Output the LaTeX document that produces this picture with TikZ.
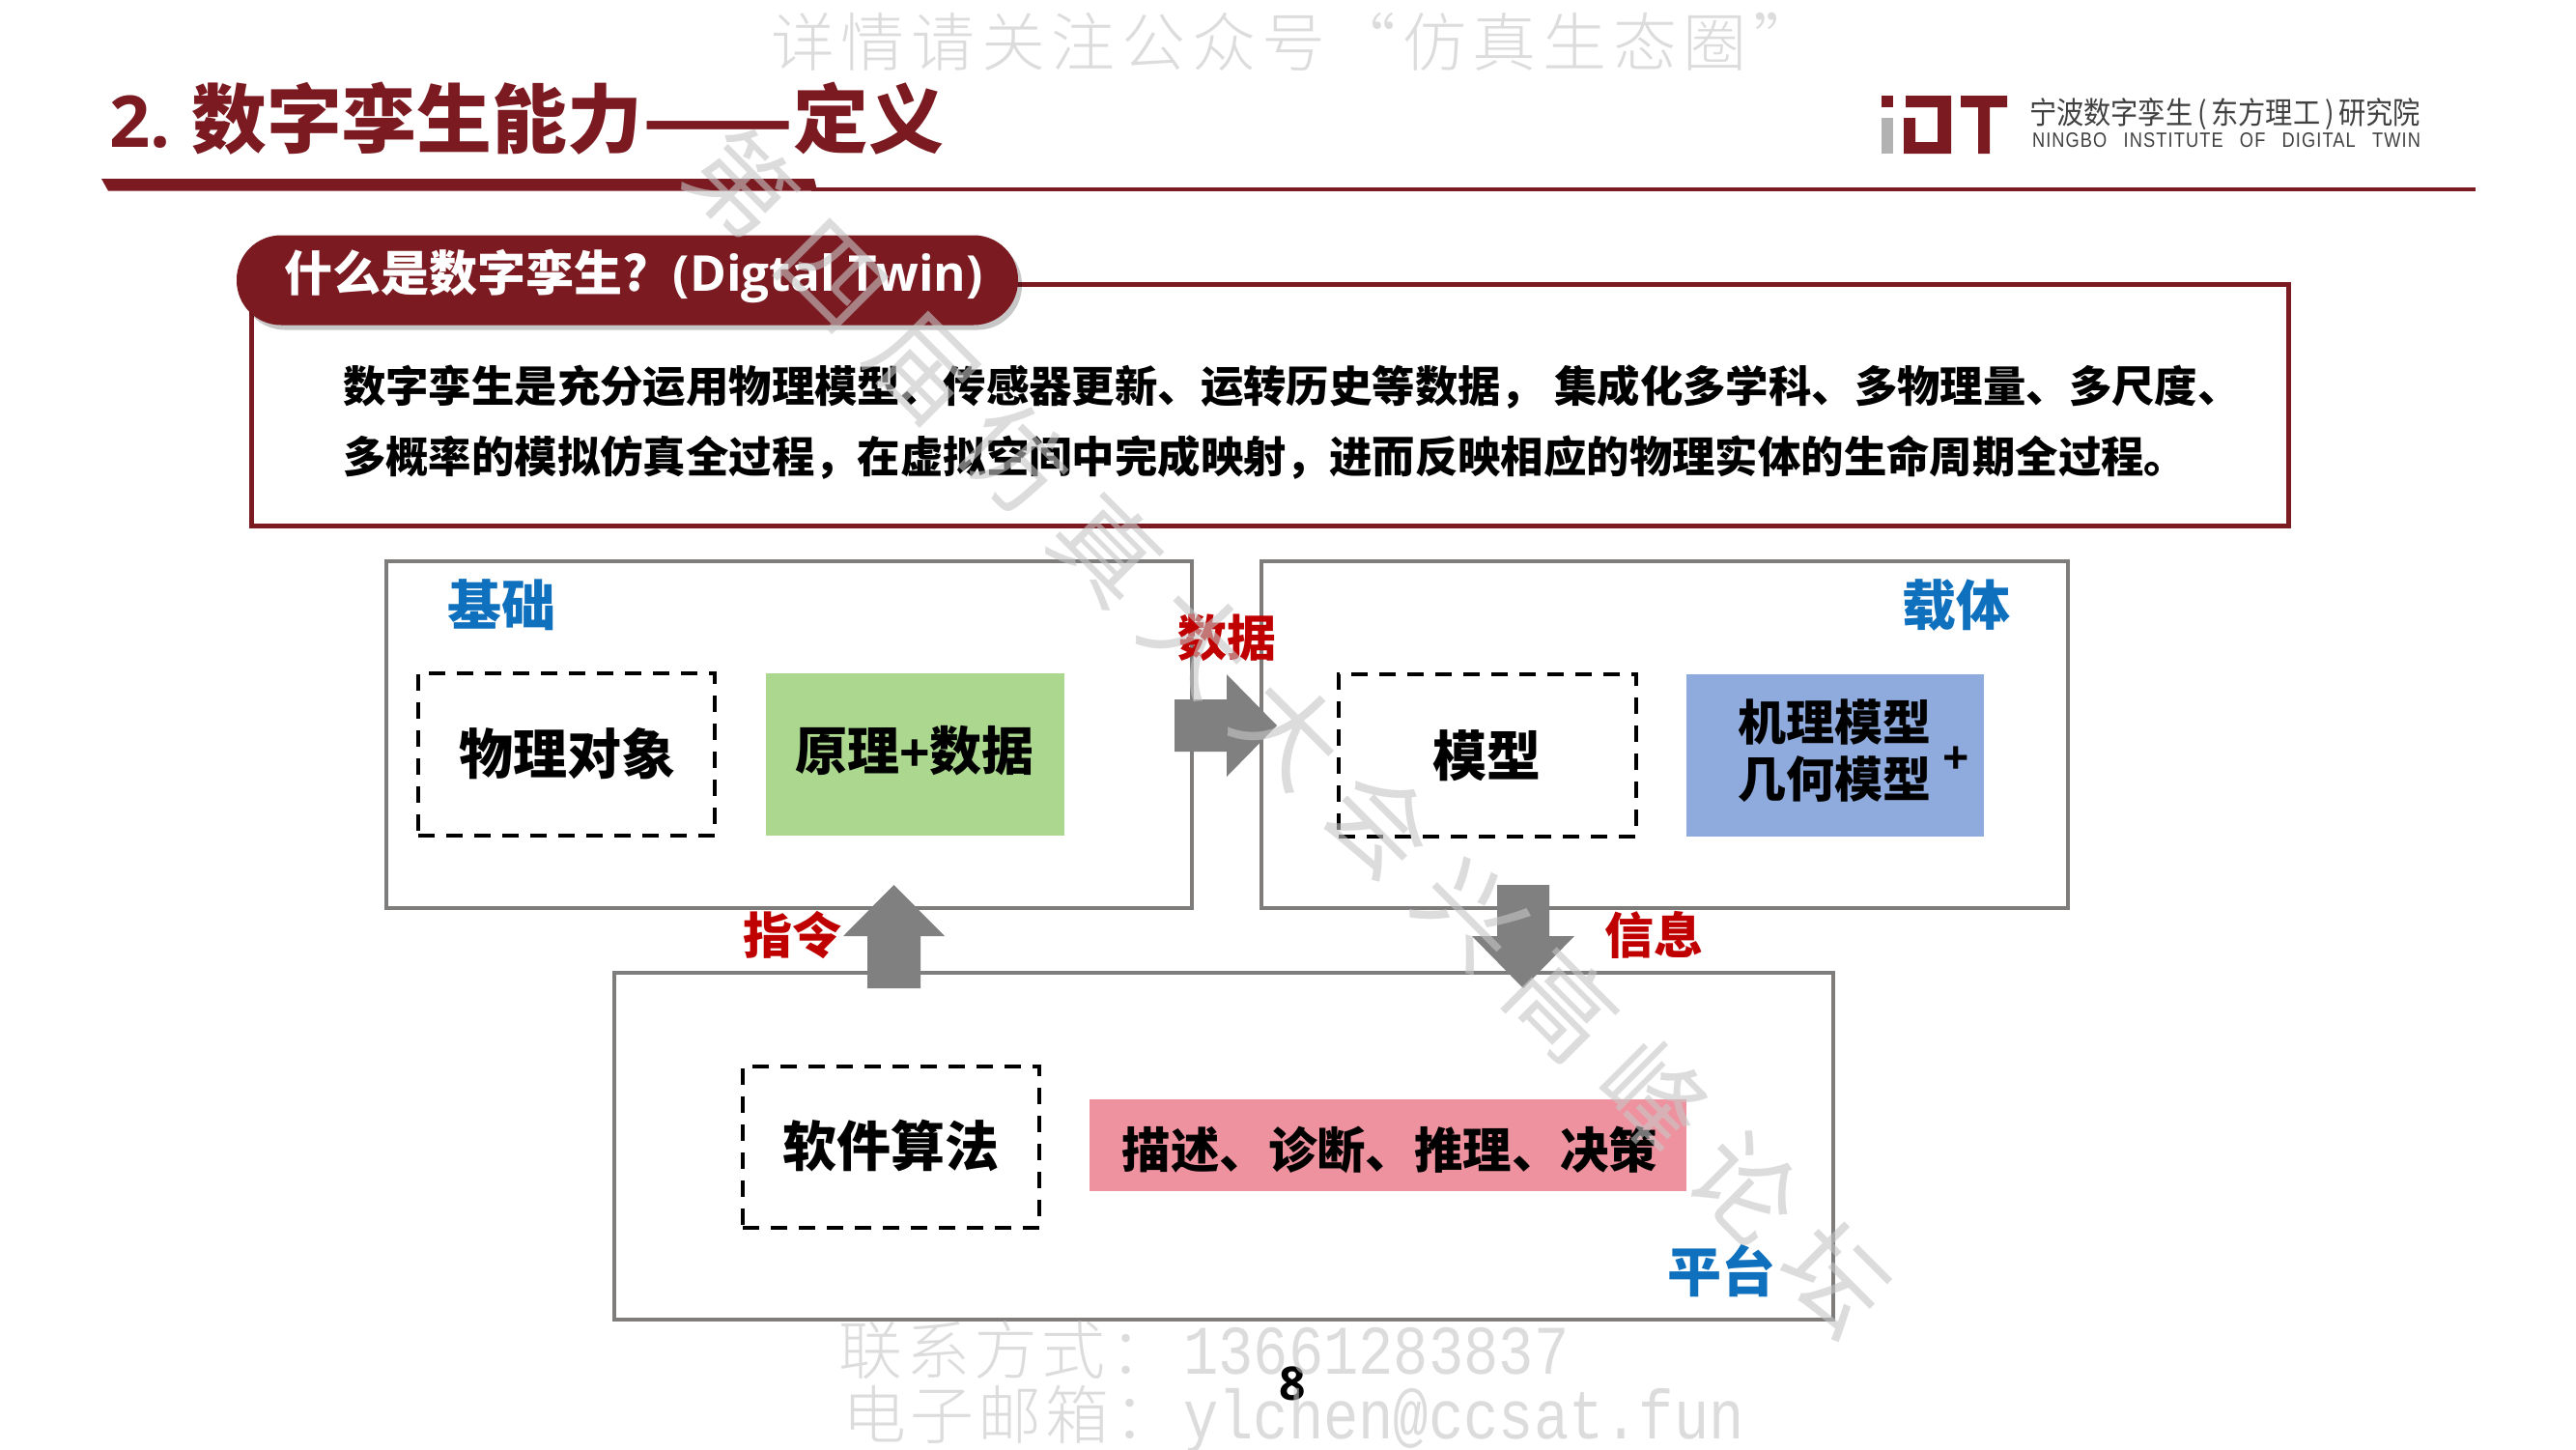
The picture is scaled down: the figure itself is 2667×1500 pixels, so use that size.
\documentclass[tikz,border=0pt]{standalone}
\usepackage{fontspec}
\usepackage{graphicx}
\usetikzlibrary{shadows}
\newfontfamily\cjk{Noto Sans CJK SC}
\newfontfamily\cjkh{Noto Sans CJK SC Black}
\newfontfamily\lat{Open Sans}[BoldFont=* Bold]
\newfontfamily\arlb{Liberation Sans Bold}
\newfontfamily\arl{Liberation Sans}[LetterSpace=6]
\newfontfamily\wmtop{Noto Sans CJK SC Light}[LetterSpace=10.1]
\newfontfamily\wmdiag{Noto Sans CJK SC}[LetterSpace=26]
\newfontfamily\wmbot{Noto Sans CJK SC Light}[LetterSpace=6.5]
\newfontfamily\wmmono{Liberation Mono}[FakeStretch=.84]
\definecolor{brick}{HTML}{7B1A21}
\definecolor{boxgray}{HTML}{7F7C7C}
\definecolor{arrowgray}{HTML}{808080}
\definecolor{labelblue}{HTML}{0F70BE}
\definecolor{labelred}{HTML}{C00000}
\definecolor{leaf}{HTML}{ABD78E}
\definecolor{sky}{HTML}{8FAADC}
\definecolor{rose}{HTML}{EF929F}
\definecolor{wm}{HTML}{C6C6C6}
\newcommand{\fs}[1]{\fontsize{#1pt}{#1pt}\selectfont}
\tikzset{
  x=.5pt,y=-.5pt,
  every node/.style={inner sep=0pt,outer sep=0pt},
  txt/.style={execute at begin node={\rule[-.12em]{0pt}{1em}}},
  heavy/.style={font=\cjkh\fs{#1},txt},
  blockbox/.style={draw=boxgray,line width=2pt,fill=white},
  dashbox/.style={draw=black,line width=2pt,dash pattern=on 8.5pt off 6pt},
  blockarrow/.style={fill=arrowgray},
  watermark/.style={text=wm,opacity=.6,text opacity=.6},
}
\begin{document}
\begin{tikzpicture}
\useasboundingbox (0,0) rectangle (2667,1500);
\fill[white] (0,0) rectangle (2667,1500);

% header
\node[anchor=west,text=brick,font=\cjkh\fs{38.9},txt] (title) at (113,123)
  {{\lat\bfseries\fs{37}2.}\hspace{11pt}数字孪生能力\scalebox{1.17}[1]{——}定义};
\fill[brick] (105,185) -- (843,185) -- (846,197.5) -- (112,197.5) -- cycle;
\fill[brick] (840,194) rectangle (2563,197.5);

% logo
\fill[brick] (1948,99) rectangle (1960,111);
\fill[gray!60] (1948,122) rectangle (1960,159);
\fill[brick] (1973,99) -- (2020,99) -- (2020,159) -- (1971,159) -- (1971,122) -- (1983,122) -- (1983,147) -- (2006,147) -- (2006,111) -- (1973,111) -- cycle;
\fill[brick] (2030,99) -- (2078,99) -- (2078,111) -- (2060,111) -- (2060,159) -- (2048,159) -- (2048,111) -- (2030,111) -- cycle;
\node[anchor=west,text=black!75] (logocn) at (2101,118.5)
  {\resizebox{202.5pt}{13.5pt}{\cjk 宁波数字孪生\,(\,东方理工\,)\,研究院}};
\node[anchor=west,text=black!75] (logoen) at (2104,145.5)
  {\resizebox{201pt}{7.5pt}{\arl NINGBO\hspace{.95em}INSTITUTE\hspace{.95em}OF\hspace{.95em}DIGITAL\hspace{.95em}TWIN}};

% definition panel
\node[draw=brick,line width=2.25pt,minimum width=1054.5pt,minimum height=125pt] (panel) at (1315,419.5) {};
\node[fill=brick,rounded corners=23pt,minimum width=404.5pt,minimum height=46.5pt,
      drop shadow={shadow xshift=2pt,shadow yshift=-2.5pt,fill=black,opacity=.22}] (pill) at (649.5,290) {};
\node[anchor=west,text=white,font=\cjkh\fs{25},txt] (pilltext) at (294,286)
  {什么是数字孪生?\hspace{13pt}{\lat\bfseries\fs{25.6}(Digtal Twin)}};
\node[anchor=west,heavy=22.2] (line1) at (355,400)
  {数字孪生是充分运用物理模型、传感器更新、运转历史等数据，\hspace{.25em}集成化多学科、多物理量、多尺度、};
\node[anchor=west,heavy=22.2] (line2) at (355,473)
  {多概率的模拟仿真全过程，在虚拟空间中完成映射，进而反映相应的物理实体的生命周期全过程。};

% three blocks
\node[blockbox,minimum width=417pt,minimum height=179.5pt] (base) at (817,760.5) {};
\node[blockbox,minimum width=417.5pt,minimum height=179.5pt] (carrier) at (1723.5,760.5) {};
\node[blockbox,minimum width=631pt,minimum height=179.5pt] (platform) at (1267,1186.5) {};

\node[dashbox,minimum width=153.5pt,minimum height=84pt] (objbox) at (586.5,781) {};
\node[heavy=28] (objtext) at (587,780) {物理对象};
\node[fill=leaf,minimum width=154.5pt,minimum height=84pt] (greenbox) at (947.5,781) {};
\node[heavy=27] (greentext) at (947,777) {原理{\arlb +}数据};

\node[dashbox,minimum width=154pt,minimum height=84pt] (modelbox) at (1540,782) {};
\node[heavy=28] (modeltext) at (1539,782) {模型};
\node[fill=sky,minimum width=154pt,minimum height=84pt] (bluebox) at (1900,782) {};
\node[heavy=25] (mech) at (1899,747) {机理模型};
\node[heavy=25] (geom) at (1899,806) {几何模型};
\node[font=\lat\bfseries\fs{24},txt] (plus) at (2025,783) {+};

\node[dashbox,minimum width=153.5pt,minimum height=83.5pt] (algobox) at (922.5,1187.5) {};
\node[heavy=28] (algotext) at (922,1186) {软件算法};
\node[fill=rose,minimum width=309pt,minimum height=47.5pt] (rosebox) at (1437,1185.5) {};
\node[heavy=25.2] (rosetext) at (1439,1190) {描述、诊断、推理、决策};

\node[heavy=28,text=labelblue] (lbase) at (519,626) {基础};
\node[heavy=28,text=labelblue] (lcarrier) at (2025,626) {载体};
\node[heavy=28,text=labelblue] (lplatform) at (1782,1316) {平台};

% block arrows
\fill[blockarrow] (1216,724) -- (1270,724) -- (1270,698) -- (1322,751) -- (1270,804) -- (1270,778) -- (1216,778) -- cycle;
\fill[blockarrow] (898,1023) -- (898,969) -- (873,969) -- (925.5,916) -- (978,969) -- (953,969) -- (953,1023) -- cycle;
\fill[blockarrow] (1550,916) -- (1604,916) -- (1604,969) -- (1630,969) -- (1577,1023) -- (1524,969) -- (1550,969) -- cycle;

\node[heavy=25.5,text=labelred] (ldata) at (1270,660) {数据};
\node[heavy=25.5,text=labelred] (lcmd) at (820,968) {指令};
\node[heavy=25.5,text=labelred] (linfo) at (1712,968) {信息};

\node[font=\lat\bfseries\fs{24},txt] (pageno) at (1338,1431) {8};

% watermarks
\node[watermark,font=\wmtop\fs{33},txt] (wmt) at (1340,43) {详情请关注公众号“仿真生态圈”};
\node[watermark,font=\wmdiag\fs{53},txt,rotate=-45] (wmd) at (1335,757) {第四届仿真大大会兴高峰论坛};
\node[watermark,anchor=west,font=\wmbot\fs{33},txt] (wmb1) at (868,1397) {联系方式：\hspace{5pt}{\wmmono\fs{36}13661283837}};
\node[watermark,anchor=west,font=\wmbot\fs{33},txt] (wmb2) at (872,1468) {电子邮箱：\hspace{3pt}{\wmmono\fs{36}ylchen@ccsat.fun}};
\end{tikzpicture}
\end{document}
